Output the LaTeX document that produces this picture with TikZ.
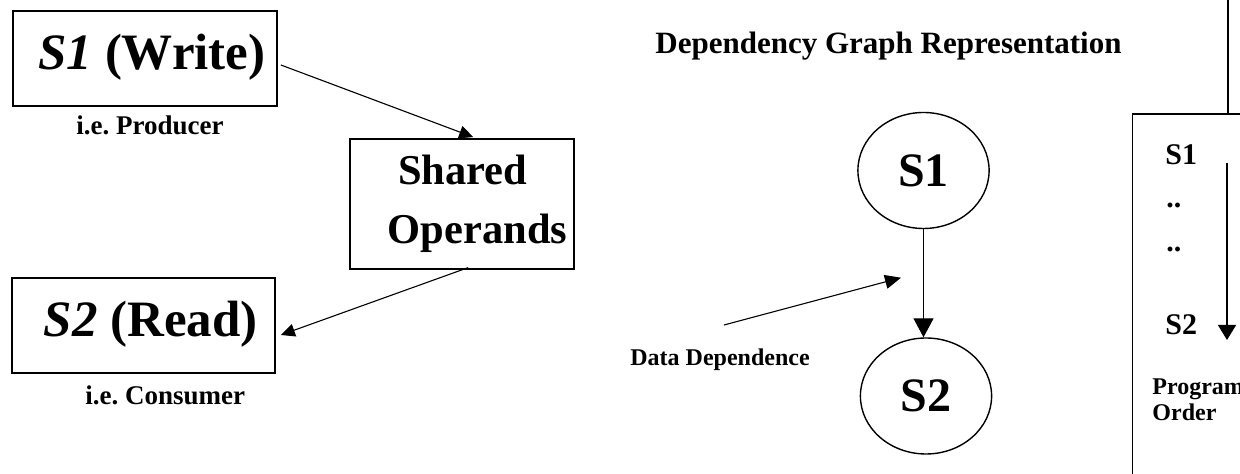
\documentclass[tikz,border=0pt]{standalone}
\usepackage{fontspec}
\setmainfont{Liberation Serif}
\usetikzlibrary{arrows.meta,shapes.geometric}
% bold text at a given size
\newcommand\bsz[1]{\fontsize{#1}{#1}\selectfont\bfseries}
\begin{document}
\begin{tikzpicture}[x=0.5pt,y=-0.5pt,
  box/.style={draw, line width=0.9pt, rectangle, inner sep=0pt},
  bubble/.style={draw, line width=0.7pt, ellipse, inner sep=0pt,
    minimum width=65.6pt, minimum height=58pt, font=\bsz{24pt}},
  txt/.style={inner sep=0pt, anchor=base west},
  link/.style={line width=0.55pt, -{Triangle[length=7pt,width=6.5pt]}},
  ddlink/.style={line width=0.55pt, -{Triangle[length=8pt,width=7pt]}},
  deplink/.style={line width=0.7pt, -{Triangle[length=9.5pt,width=10pt]}},
  polink/.style={line width=0.6pt, -{Triangle[length=7.5pt,width=9pt]}},
]
\useasboundingbox (0,0) rectangle (1240,474);
\clip (0,0) rectangle (1240,474);

% ---- producer / consumer through shared operands ----
\node[box, minimum width=131.7pt, minimum height=47.5pt] (w1) at (145,58.2) {};
\node[txt, font=\bsz{25.5pt}] (w1t) at (38,70) {\textit{S1} (Write)};
\node[txt, font=\bsz{13.5pt}] (prod) at (76,135) {i.e.\ Producer};

\node[box, minimum width=112.15pt, minimum height=65pt] (sh) at (462.2,204) {};
\node[txt, font=\bsz{21.25pt}] (sha) at (397.7,185) {Shared};
\node[txt, font=\bsz{21.25pt}] (shb) at (387.3,243.3) {Operands};

\node[box, minimum width=131.65pt, minimum height=47.5pt] (r2) at (143.3,325.8) {};
\node[txt, font=\bsz{25.5pt}] (r2t) at (43.3,336.7) {\textit{S2} (Read)};
\node[txt, font=\bsz{13.5pt}] (cons) at (85,405) {i.e.\ Consumer};

\draw[link] ([shift={(3.3,6.8)}]w1.east) -- ([shift={(11,-1)}]sh.north);
\draw[link] ([shift={(6,-2.3)}]sh.south) -- ([shift={(5,9.2)}]r2.east);

% ---- dependency graph ----
\node[txt, font=\bsz{15.5pt}] (title) at (655,53.3) {Dependency Graph Representation};

\node[bubble] (c1) at (923.5,170.5) {S1};
\node[bubble] (c2) at (926,396) {S2};
\draw[deplink] (c1.south) -- (c1.south |- c2.north);

\coordinate (ddtail) at (724,325);
\coordinate (ddtip) at (901,277.7);
\draw[ddlink] (ddtail) -- (ddtip);
\node[txt, font=\bsz{12pt}] (ddtext) at (630,366) {Data Dependence};

% ---- program order ----
\node[draw, line width=0.8pt, rectangle, inner sep=0pt, minimum width=200pt,
      minimum height=250pt, anchor=north west] (pobox) at (1131.7,113.3) {};
\coordinate (feed) at (1228,-10);
\draw[line width=1.2pt] (feed) -- (feed |- pobox.north);

\node[txt, font=\bsz{15pt}] (po1) at (1165,165) {S1};
\node[txt, font=\bsz{15pt}] (pd1) at (1166,208) {..};
\node[txt, font=\bsz{15pt}] (pd2) at (1166,252) {..};
\node[txt, font=\bsz{15pt}] (po2) at (1165,335) {S2};
\coordinate (poline) at (1227,0);
\draw[polink] ([shift={(0,-2)}]poline |- po1.base) -- ([shift={(0,5)}]poline |- po2.base);

\node[txt, font=\bsz{12pt}] (pga) at (1152,395) {Program};
\node[txt, font=\bsz{12pt}] (pgb) at (1152,421) {Order};
\end{tikzpicture}
\end{document}
